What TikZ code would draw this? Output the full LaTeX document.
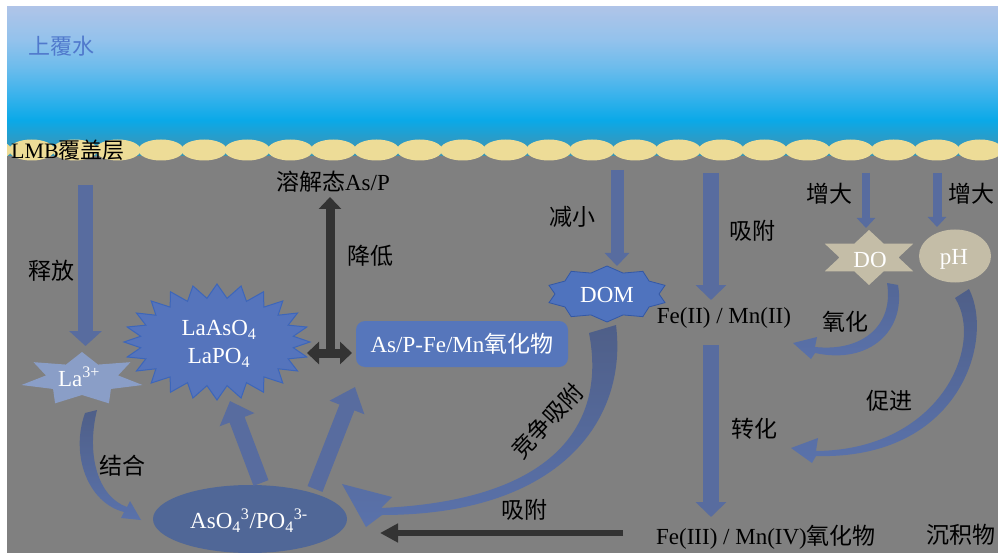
\documentclass[tikz,border=0pt]{standalone}
\usepackage{fontspec}
\setmainfont{Liberation Serif}
\newfontfamily\cjk{Noto Sans CJK SC}
\usetikzlibrary{arrows.meta,calc}

\newcommand{\zh}[1]{{\cjk #1}}
\newcommand{\lsize}{\fontsize{23}{27}\selectfont}

% palette
\definecolor{wat0}{HTML}{AFC4E8}
\definecolor{wat1}{HTML}{93C2EC}
\definecolor{wat2}{HTML}{6DBCEC}
\definecolor{wat3}{HTML}{3DB3EC}
\definecolor{wat4}{HTML}{0AA9E8}
\definecolor{wat5}{HTML}{2C9BC6}
\definecolor{wat6}{HTML}{3D94B0}
\definecolor{sedgray}{HTML}{808080}
\definecolor{sand}{HTML}{EDDC97}
\definecolor{waterlbl}{HTML}{5079CC}
\definecolor{arrowblue}{HTML}{586C9F}
\definecolor{curveblue}{HTML}{5A72AB}
\definecolor{curvedark}{HTML}{4F5F88}
\definecolor{darkarrow}{HTML}{333333}
\definecolor{boxblue}{HTML}{5676BB}
\definecolor{burstblue}{HTML}{5574BC}
\definecolor{burstedge}{HTML}{3D66BA}
\definecolor{lablue}{HTML}{8A9EC7}
\definecolor{domblue}{HTML}{4F73BE}
\definecolor{domedge}{HTML}{3358A6}
\definecolor{ionblue}{HTML}{506797}
\definecolor{beige}{HTML}{C4BDA7}

\pgfdeclareverticalshading{water}{100bp}{%
  color(0bp)=(wat6); color(25bp)=(wat6); color(30.7bp)=(wat5);
  color(37.3bp)=(wat4); color(46.3bp)=(wat3); color(55bp)=(wat2);
  color(64bp)=(wat1); color(75bp)=(wat0); color(100bp)=(wat0)}

% star outline with elliptical outer and inner radii
% #1 style, #2 cx, #3 cy, #4 rx out, #5 ry out, #6 rx in, #7 ry in, #8 points, #9 start angle
\newcommand{\starpoly}[9]{%
  \pgfmathtruncatemacro{\lastk}{2*#8-1}%
  \path[#1, shift={(#2,#3)}] plot[samples at={0,...,\lastk}, variable=\k]
    ({(mod(\k,2)==0 ? #4 : #6)*cos(#9+\k*180/#8)},
     {(mod(\k,2)==0 ? #5 : #7)*sin(#9+\k*180/#8)}) -- cycle;}

\tikzset{
  lbl/.style={font=\lsize, text=black, inner sep=0pt},
  wt/.style={font=\lsize, text=white, inner sep=0pt},
  blk/.style n args={3}{draw=arrowblue, line width=#1, -{Triangle[width=#2,length=#3]}},
  darkblk/.style={draw=darkarrow, line width=9pt},
  bend arrow/.style={top color=curvedark, bottom color=curveblue},
}

\begin{document}
\begin{tikzpicture}[x=1pt, y=-1pt]
\useasboundingbox (0,0) rectangle (998,553);
\fill[white] (0,0) rectangle (998,553);

% water column and sediment
\shade[shading=water] (7,7) rectangle (998,157);
\fill[sedgray] (7,156) rectangle (998,553);

% capping layer grains
\begin{scope}
  \clip (7,7) rectangle (998,553);
  \foreach \i in {-4,...,19}
    \fill[sand] ({161+43.1*\i},150) ellipse [x radius=22.7, y radius=10.5];
\end{scope}

\node[anchor=west, font=\fontsize{22}{26}\selectfont, text=waterlbl, inner sep=0pt] (water) at (28,46) {\zh{上覆水}};
\node[anchor=west, font=\fontsize{22}{26}\selectfont, inner sep=0pt] (lmb) at (11,150) {LMB\zh{覆盖层}};

% ---------- shapes ----------
\starpoly{fill=lablue}{82}{379}{62}{27}{37}{16}{7}{-90}
\node[wt] (la) at (79,377) {La\textsuperscript{3+}};

\starpoly{fill=burstblue, draw=burstedge, line width=1pt}{217}{342}{93}{58}{77}{44}{24}{-90}
\node[wt] (laas) at (219,330) {LaAsO\textsubscript{4}};
\node[wt] (lap) at (219,358) {LaPO\textsubscript{4}};

\node[wt, fill=boxblue, rounded corners=9pt, minimum width=212pt, minimum height=46pt] (box) at (462,344) {As/P-Fe/Mn\zh{氧化物}};

\starpoly{fill=domblue, draw=domedge, line width=0.8pt}{607}{294}{61}{28}{52}{22}{10}{-90}
\node[wt] (dom) at (607,295) {DOM};

\starpoly{fill=beige}{869}{257.5}{51}{27.5}{29.5}{15.9}{6}{-90}
\node[wt] (do) at (870,260) {DO};

\fill[beige] (955,256) ellipse [x radius=36, y radius=26.5];
\node[wt] (ph) at (954,259) {pH};

\fill[ionblue] (250,519) ellipse [x radius=97, y radius=34];
\node[wt] (ion) at (249,521) {AsO\textsubscript{4}\textsuperscript{3}/PO\textsubscript{4}\textsuperscript{3-}};

% ---------- straight block arrows ----------
\coordinate (relS) at (85.5,185);  \coordinate (relE) at (85.5,346);
\draw[blk={15pt}{32pt}{15pt}] (relS) -- (relE);
\coordinate (domS) at (617,170);  \coordinate (domE) at (617,266);
\draw[blk={13pt}{24pt}{13pt}] (domS) -- (domE);
\coordinate (feS) at (711,173);  \coordinate (feE) at (711,300);
\draw[blk={16pt}{30pt}{15pt}] (feS) -- (feE);
\coordinate (trS) at (711,345);  \coordinate (trE) at (711,517);
\draw[blk={16pt}{30pt}{15pt}] (trS) -- (trE);
\coordinate (doS) at (866,173);  \coordinate (doE) at (866,228);
\draw[blk={8pt}{18pt}{10pt}] (doS) -- (doE);
\coordinate (phS) at (937,173);  \coordinate (phE) at (937,227);
\draw[blk={9pt}{18pt}{10pt}] (phS) -- (phE);
\coordinate (ionL) at (261,483);  \coordinate (burstB) at (230,401);
\draw[blk={16pt}{36pt}{20pt}] (ionL) -- (burstB);
\coordinate (ionR) at (315,489);  \coordinate (boxB) at (355,387);
\draw[blk={16pt}{36pt}{22pt}] (ionR) -- (boxB);

% dark arrows
\coordinate (solB) at (330,197);  \coordinate (hub) at (330,353);
\coordinate (hubL) at (307,353);  \coordinate (hubR) at (352,353);
\draw[darkblk, -{Triangle[width=22pt,length=12pt]}] (hub) -- (solB);
\draw[darkblk, {Triangle[width=22pt,length=12pt]}-{Triangle[width=22pt,length=12pt]}] (hubL) -- (hubR);
\coordinate (adsS) at (623,533);  \coordinate (adsE) at (380,533);
\draw[draw=darkarrow, line width=6pt, -{Triangle[width=18pt,length=18pt]}] (adsS) -- (adsE);

% ---------- tapered curved arrows ----------
% La3+ -> AsO4/PO4
\shade[bend arrow] (85,413) .. controls (70,455) and (88,503) .. (124,512)
  -- (121,518) -- (141,520) -- (130,501) -- (127,507)
  .. controls (98,497) and (86,455) .. (97,410) -- cycle;
% DOM -> AsO4/PO4 (competitive adsorption)
\shade[bend arrow] (616,325) .. controls (628,420) and (560,515) .. (382,515)
  -- (366,527) -- (342,484) -- (392,497) -- (381,508)
  .. controls (560,500) and (606,420) .. (589,333) -- cycle;
% DO -> Fe(II)/Mn(II)
\shade[top color=curvedark!60!curveblue, bottom color=curveblue] (898,285) .. controls (906,330) and (870,365) .. (815,353)
  -- (811,359) -- (793,343) -- (817,337) -- (815,347)
  .. controls (863,352) and (894,325) .. (887,283) -- cycle;
% pH -> Fe(III)/Mn(IV)
\shade[bend arrow] (969,289) .. controls (995,340) and (960,460) .. (816,456)
  -- (812,463) -- (791,448) -- (818,438) -- (816,451)
  .. controls (940,450) and (985,345) .. (955,298) -- cycle;

% ---------- labels ----------
\node[lbl] (sol) at (333,182) {\zh{溶解态}As/P};
\node[lbl] (lower) at (370,256) {\zh{降低}};
\node[lbl] (reduce) at (572,217) {\zh{减小}};
\node[lbl] (adsup) at (752,231) {\zh{吸附}};
\node[lbl] (incdo) at (829,194) {\zh{增大}};
\node[lbl] (incph) at (971,194) {\zh{增大}};
\node[lbl] (fe2) at (724,318) {Fe(II) / Mn(II)};
\node[lbl] (oxid) at (845,322) {\zh{氧化}};
\node[lbl] (promote) at (889,401) {\zh{促进}};
\node[lbl] (transf) at (754,429) {\zh{转化}};
\node[lbl] (fe3) at (766,537) {Fe(III) / Mn(IV)\zh{氧化物}};
\node[lbl] (sed) at (961,535) {\zh{沉积物}};
\node[lbl] (adsdn) at (524,510) {\zh{吸附}};
\node[lbl, rotate=47] (comp) at (547,421) {\zh{竞争吸附}};
\node[lbl] (bind) at (122,466) {\zh{结合}};
\node[lbl] (release) at (51,271) {\zh{释放}};
\end{tikzpicture}
\end{document}
